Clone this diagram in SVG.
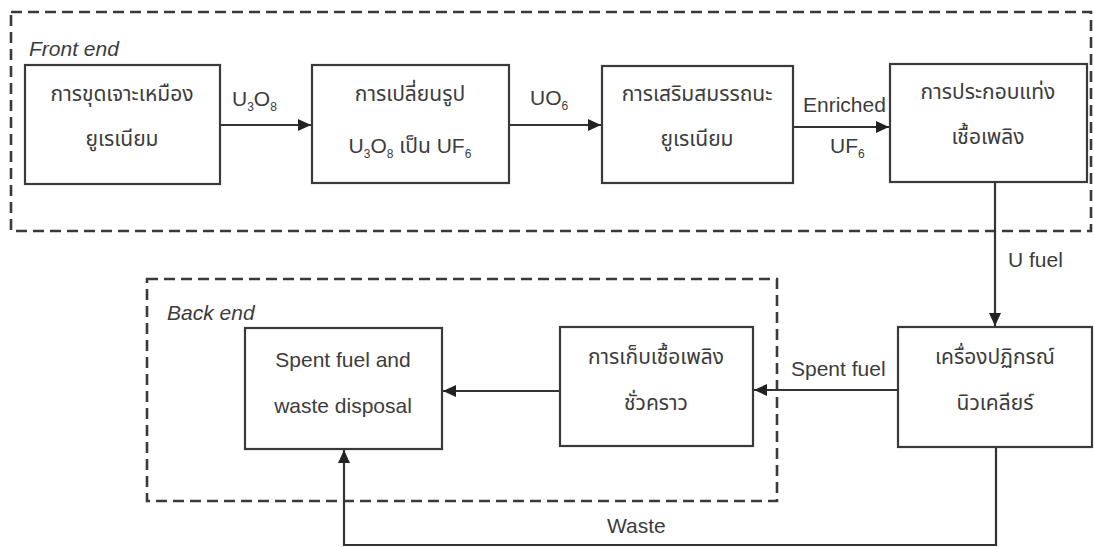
<svg xmlns="http://www.w3.org/2000/svg" width="1094" height="547" viewBox="0 0 1094 547">
<style>
  .box{fill:#ffffff;stroke:#3a3a3a;stroke-width:2.2}
  .grp{fill:none;stroke:#3a3a3a;stroke-width:2.6;stroke-dasharray:11 6}
  .ln{fill:none;stroke:#333;stroke-width:2.2}
  text{font-family:"Liberation Sans","Noto Sans Thai","Noto Sans",sans-serif;font-size:21px;fill:#3c3c3c}
  .c{text-anchor:middle}
  .it{font-style:italic}
  .sub{font-size:12px}
</style>
<defs>
  <marker id="ah" viewBox="0 0 13 12" refX="13" refY="6" markerWidth="13" markerHeight="12" markerUnits="userSpaceOnUse" orient="auto">
    <path d="M0,0 L13,6 L0,12 Z" fill="#222"/>
  </marker>
</defs>
<rect width="1094" height="547" fill="#ffffff"/>

<g id="front-end">
  <rect class="grp" x="11" y="12" width="1080" height="219"/>
  <text class="it" x="29" y="56">Front end</text>
</g>
<g id="back-end">
  <rect class="grp" x="147" y="279" width="630" height="222"/>
  <text class="it" x="167" y="320">Back end</text>
</g>

<g id="connectors">
  <path class="ln" d="M220,125 H311" marker-end="url(#ah)"/>
  <path class="ln" d="M509,125 H601" marker-end="url(#ah)"/>
  <path class="ln" d="M793,127 H889" marker-end="url(#ah)"/>
  <path class="ln" d="M995,182 V326" marker-end="url(#ah)"/>
  <path class="ln" d="M898,390 H754" marker-end="url(#ah)"/>
  <path class="ln" d="M560,391 H443" marker-end="url(#ah)"/>
  <path class="ln" d="M996,447 V545 H344 V450" marker-end="url(#ah)"/>
  <text x="232" y="106">U<tspan class="sub" dy="5">3</tspan><tspan dy="-5">O</tspan><tspan class="sub" dy="5">8</tspan></text>
  <text x="530" y="105">UO<tspan class="sub" dy="5">6</tspan></text>
  <text x="803" y="112">Enriched</text>
  <text x="830" y="153">UF<tspan class="sub" dy="5">6</tspan></text>
  <text x="1008" y="267">U fuel</text>
  <text x="791" y="376">Spent fuel</text>
  <text x="607" y="533">Waste</text>
</g>

<g id="mining">
  <rect class="box" x="25" y="65" width="195" height="119"/>
  <text class="c" x="122" y="101">การขุดเจาะเหมือง</text>
  <text class="c" x="122" y="146">ยูเรเนียม</text>
</g>
<g id="conversion">
  <rect class="box" x="312" y="65" width="197" height="118"/>
  <text class="c" x="410" y="101">การเปลี่ยนรูป</text>
  <text class="c" x="410" y="153">U<tspan class="sub" dy="5">3</tspan><tspan dy="-5">O</tspan><tspan class="sub" dy="5">8</tspan><tspan dy="-5"> เป็น UF</tspan><tspan class="sub" dy="5">6</tspan></text>
</g>
<g id="enrichment">
  <rect class="box" x="602" y="66" width="191" height="117"/>
  <text class="c" x="697" y="101">การเสริมสมรรถนะ</text>
  <text class="c" x="697" y="146">ยูเรเนียม</text>
</g>
<g id="fabrication">
  <rect class="box" x="890" y="64" width="197" height="118"/>
  <text class="c" x="988" y="99">การประกอบแท่ง</text>
  <text class="c" x="988" y="144">เชื้อเพลิง</text>
</g>
<g id="reactor">
  <rect class="box" x="898" y="327" width="194" height="120"/>
  <text class="c" x="995" y="364">เครื่องปฏิกรณ์</text>
  <text class="c" x="995" y="410">นิวเคลียร์</text>
</g>
<g id="storage">
  <rect class="box" x="560" y="327" width="193" height="119"/>
  <text class="c" x="656" y="364">การเก็บเชื้อเพลิง</text>
  <text class="c" x="656" y="410">ชั่วคราว</text>
</g>
<g id="disposal">
  <rect class="box" x="245" y="328" width="197" height="121"/>
  <text class="c" x="343" y="367">Spent fuel and</text>
  <text class="c" x="343" y="413">waste disposal</text>
</g>
</svg>
